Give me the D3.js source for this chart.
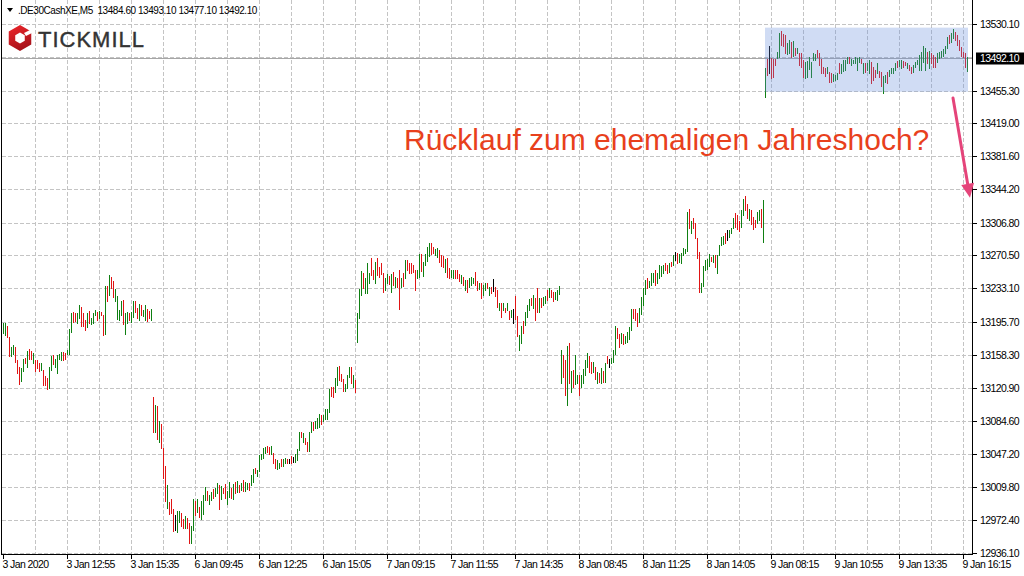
<!DOCTYPE html>
<html><head><meta charset="utf-8">
<script src="https://cdn.jsdelivr.net/npm/d3@7"></script>
<style>
body{margin:0;background:#fff}
svg{display:block}
text{font-family:"Liberation Sans",Arial,sans-serif}
</style>
</head><body>
<svg id="c" width="1024" height="576"></svg>
<script>
// ---------------- data ----------------
const symbolTitle = ".DE30CashXE,M5";
const lastOHLC = ["13484.60","13493.10","13477.10","13492.10"];
const bidPrice = 13492.10;
const bidLabel = "13492.10";

// bar highs (5-minute bars, 3 Jan 10:15 .. 9 Jan 16:25)
const highs = [
13194,13194,13191,13179,13167,13169,13167,13153,13145,13144,
13154,13155,13163,13165,13163,13160,13153,13153,13149,13149,
13141,13135,13132,13145,13157,13158,13154,13158,13159,13162,
13162,13160,13164,13187,13205,13207,13205,13205,13214,13212,
13205,13198,13205,13208,13200,13205,13209,13207,13208,13207,
13203,13236,13236,13248,13246,13241,13232,13225,13209,13219,
13220,13205,13207,13205,13207,13219,13219,13211,13216,13214,
13209,13214,13210,13208,13210,
13111,13102,13101,13084,13081,13054,13034,13012,12993,12996,
12985,12978,12983,12983,12981,12974,12977,12975,12970,12966,
12996,12994,12996,12988,12994,13001,13010,13005,13001,13004,
13008,13009,13014,13012,13011,13009,13013,13005,13016,13009,
13013,13016,13017,13012,13014,13018,13016,13014,13014,13023,
13030,13031,13029,13046,13047,13054,13055,13056,13055,13056,
13048,13041,13040,13037,13041,13041,13043,13041,13041,13045,
13044,13047,13053,13072,13072,13071,13065,13061,13072,13083,
13083,13084,13087,13092,13091,13091,13097,13097,13120,13122,
13122,13132,13145,13146,13137,13131,13126,13136,13145,13145,
13136,13130,
13205,13232,13253,13250,13245,13262,13250,13267,13254,13263,
13267,13257,13262,13250,13245,13249,13247,13249,13251,13246,
13245,13254,13245,13250,13265,13265,13262,13262,13259,13254,
13254,13272,13272,13263,13272,13280,13284,13284,13280,13277,
13278,13276,13271,13269,13266,13267,13256,13254,13254,13254,
13254,13249,13248,13246,13243,13243,13245,13246,13245,13251,
13241,13239,13239,13237,13239,13239,13235,13235,13244,13235,
13231,13217,13217,13217,13211,13217,13208,13209,13210,13225,
13202,13181,13191,13196,13207,13214,13221,13222,13226,13222,
13234,13222,13222,13223,13225,13231,13234,13231,13229,13229,
13231,13236,
13164,13158,13153,13168,13172,13140,13141,13158,13136,13136,
13136,13143,13153,13161,13157,13150,13150,13145,13139,13138,
13144,13140,13149,13157,13154,13155,13164,13191,13189,13182,
13183,13182,13180,13184,13190,13210,13210,13210,13205,13211,
13223,13234,13243,13245,13241,13250,13250,13254,13250,13259,
13258,13259,13262,13259,13262,13263,13271,13274,13273,13272,
13273,13278,13277,13319,13322,13309,13312,13307,13290,13274,
13239,13258,13265,13266,13272,13268,13271,13271,13271,13282,
13291,13292,13295,13299,13299,13301,13312,13318,13315,13309,
13321,13333,13337,13328,13322,13321,13313,13310,13319,13321,
13322,13332,
13481,13491,13505,13492,13491,13491,13499,13520,13522,13519,
13518,13509,13512,13510,13511,13503,13503,13498,13498,13490,
13487,13489,13493,13487,13498,13496,13501,13498,13491,13482,
13481,13482,13476,13475,13474,13473,13475,13486,13485,13490,
13490,13493,13493,13491,13490,13493,13492,13493,13491,13486,
13486,13486,13490,13487,13482,13478,13486,13477,13476,13472,
13473,13476,13478,13481,13481,13486,13489,13490,13490,13489,
13487,13486,13484,13482,13484,13487,13490,13495,13499,13505,
13503,13499,13500,13498,13495,13493,13498,13499,13500,13502,
13505,13516,13518,13520,13525,13521,13518,13512,13504,13499,
13498,13493.1
];

const lows = [
13183,13181,13179,13157,13157,13159,13150,13138,13126,13129,
13140,13149,13145,13154,13154,13149,13140,13144,13140,13141,
13125,13125,13120,13121,13141,13148,13145,13138,13154,13153,
13153,13154,13159,13159,13184,13195,13196,13194,13200,13191,
13191,13186,13190,13194,13193,13194,13203,13198,13200,13203,
13181,13182,13219,13226,13234,13223,13219,13199,13198,13203,
13193,13182,13194,13198,13195,13201,13207,13200,13198,13203,
13202,13198,13196,13200,13198,
13072,13072,13064,13061,13054,13020,12994,12986,12980,12981,
12960,12962,12959,12971,12966,12964,12964,12964,12947,12947,
12962,12978,12982,12976,12974,12980,12995,12995,12991,12995,
12998,13000,13003,12985,12996,13003,12998,12991,12999,12998,
12996,13003,13004,13004,13006,13005,13005,13008,13006,13012,
13016,13026,13022,13028,13041,13043,13048,13049,13047,13047,
13037,13031,13030,13031,13034,13033,13037,13037,13037,13037,
13038,13038,13040,13052,13066,13061,13058,13050,13050,13072,
13074,13076,13076,13077,13081,13084,13086,13086,13094,13112,
13111,13117,13125,13130,13129,13118,13118,13121,13134,13127,
13122,13117,
13173,13200,13226,13234,13228,13228,13239,13248,13244,13239,
13248,13246,13249,13229,13231,13239,13238,13229,13237,13235,
13235,13210,13235,13236,13245,13254,13250,13250,13251,13231,
13245,13246,13253,13247,13259,13264,13270,13272,13273,13271,
13268,13263,13258,13257,13251,13246,13245,13246,13245,13245,
13245,13241,13239,13237,13231,13229,13235,13237,13239,13237,
13231,13232,13222,13226,13231,13234,13226,13228,13230,13224,
13212,13209,13201,13209,13207,13209,13199,13201,13194,13199,
13180,13164,13172,13183,13192,13201,13209,13214,13211,13197,
13207,13207,13212,13214,13217,13220,13223,13223,13219,13221,
13220,13227,
13127,13134,13113,13102,13127,13117,13122,13126,13127,13113,
13122,13127,13136,13145,13139,13138,13139,13131,13127,13128,
13127,13128,13128,13149,13145,13149,13150,13159,13177,13167,
13172,13171,13172,13173,13176,13186,13200,13198,13191,13195,
13204,13214,13227,13234,13235,13237,13240,13237,13239,13245,
13247,13250,13254,13250,13251,13258,13259,13265,13262,13263,
13262,13271,13273,13275,13301,13295,13301,13290,13267,13229,
13229,13236,13254,13255,13258,13264,13263,13257,13250,13271,
13282,13283,13284,13287,13291,13295,13301,13302,13300,13298,
13302,13315,13321,13312,13310,13305,13300,13302,13307,13310,
13302,13285,
13448,13473,13475,13469,13471,13484,13492,13493,13507,13505,
13498,13496,13498,13493,13494,13495,13498,13484,13482,13471,
13469,13471,13480,13471,13490,13490,13493,13484,13475,13475,
13472,13475,13465,13465,13466,13467,13468,13475,13475,13477,
13478,13486,13486,13484,13486,13486,13478,13487,13486,13475,
13476,13478,13475,13464,13467,13471,13475,13471,13460,13453,
13465,13464,13472,13475,13475,13478,13482,13483,13481,13482,
13484,13481,13478,13475,13476,13482,13485,13478,13478,13487,
13478,13486,13481,13486,13482,13482,13487,13492,13493,13494,
13498,13503,13509,13510,13514,13512,13507,13501,13494,13493,
13482,13477.1
];

// bar direction: u = close above open, d = close below open, n = unchanged
const directions = (
"u u d d u u d d d u  u d u d d u d d d u  d d d u u d u u u u  d d u u u d d u u d " +
"d d u d u u u d u d  d u d u d d u u u u  d u u d u u d d u d  u u d d u " +
"d u d u d d d u d d  d n u u d d u d d u  u d u d u u u d u u  d u u d u d d u u d " +
"u d u d u d u u d u  u d u u u u u d d u  d d u u d u u d n d  n u u u d u d d u u " +
"d u u u d u u u u d  d u u d d d u u u d  u d " +
"u u u d u u u d d u  d d d d u u d u d u  d d u d u d d d d d  u u d u u u u d d u " +
"u d d d u d d u u d  d d u d u d u u u d  d u d u u d u d n d  d u d u d u d u n d " +
"d u u d u u u d u d  d u d u u d u d d u  u u " +
"u d d u d u d u u d  u u u u d d u d u d  u d u d n u u u d d  u d u u u u d d d u " +
"u u u d u u u d u u  u u d d u d u n d u  u u u u d u d d d d  u u u u u d u d u u " +
"u u d n u u u d d d  u u d d u d d d u u  d u " +
"u d n d d d u u d d  d u u d u d u d d d  u u u u u u d d d d  d u d d u u u d u u " +
"u u d u u u u u d u  d u u d d d u d d u  u d u u u u d u u d  d u d d u u u u u u " +
"u d u d d d u u u u  u u d u u d d d d d  d u"
).trim().split(/\s+/);

// axes
const priceTicks = [13530.10,13455.30,13419.00,13381.60,13344.20,13306.80,13270.50,13233.10,
  13195.70,13158.30,13120.90,13084.60,13047.20,13009.80,12972.40,12936.10];
const hiddenGridPrice = 13492.70;
const timeTickBars = [0,32,64,96,128,160,192,224,256,288,320,352,384,416,448,480];
const timeTickLabels = ["3 Jan 2020","3 Jan 12:55","3 Jan 15:35","6 Jan 09:45","6 Jan 12:25",
  "6 Jan 15:05","7 Jan 09:15","7 Jan 11:55","7 Jan 14:35","8 Jan 08:45","8 Jan 11:25",
  "8 Jan 14:05","9 Jan 08:15","9 Jan 10:55","9 Jan 13:35","9 Jan 16:15"];

// annotations
const zoneBars = [381, 482.5];
const zonePrices = [13526, 13454];
const noteText = "Rücklauf zum ehemaligen Jahreshoch?";
const arrowFrom = {bar: 475, price: 13447};
const arrowTo = {bar: 483.5, price: 13335};

// ---------------- drawing ----------------
const svg = d3.select("#c");
const N = Math.min(highs.length, lows.length, directions.length);
const plotLeft = 1.5, plotRight = 972.5, plotBottom = 554.5;

const x = d3.scaleLinear().domain([0, 482]).range([3, 967]);
const y = d3.scaleLinear().domain([12936.1, 13530.1]).range([552.7, 24]);
const px = v => Math.round(x(v)) + 0.5;
const py = v => Math.round(y(v)) + 0.5;

// grid
const grid = svg.append("g").attr("stroke", "#c4c4c4").attr("stroke-dasharray", "4,2")
  .attr("shape-rendering", "crispEdges").attr("fill", "none");
grid.selectAll("line.v").data(d3.range(16, 483, 16)).join("line").attr("class", "v")
  .attr("x1", d => px(d)).attr("x2", d => px(d)).attr("y1", 0).attr("y2", plotBottom);
grid.selectAll("line.h").data(priceTicks.concat([hiddenGridPrice])).join("line").attr("class", "h")
  .attr("x1", plotLeft).attr("x2", plotRight).attr("y1", d => py(d)).attr("y2", d => py(d));

// bid line
svg.append("line").attr("x1", plotLeft).attr("x2", plotRight)
  .attr("y1", py(bidPrice)).attr("y2", py(bidPrice))
  .attr("stroke", "#a6a6a6").attr("stroke-width", 1).attr("shape-rendering", "crispEdges");

// bars
const colors = {u: "#0f7f12", d: "#e01414", n: "#000000"};
const bars = d3.range(N).map(i => ({i, h: highs[i], l: lows[i], d: directions[i]}));
svg.append("g").attr("shape-rendering", "crispEdges").selectAll("line").data(bars).join("line")
  .attr("x1", d => px(d.i)).attr("x2", d => px(d.i))
  .attr("y1", d => Math.round(y(d.h))).attr("y2", d => Math.max(Math.round(y(d.l)) + 1, Math.round(y(d.h)) + 2))
  .attr("stroke", d => colors[d.d] || "#000").attr("stroke-width", 1);

// highlighted zone (semi-transparent overlay)
svg.append("rect")
  .attr("x", x(zoneBars[0])).attr("width", x(zoneBars[1]) - x(zoneBars[0]))
  .attr("y", y(zonePrices[0])).attr("height", y(zonePrices[1]) - y(zonePrices[0]))
  .attr("fill", "rgb(98,138,218)").attr("fill-opacity", 0.3);

// frame
const frame = svg.append("g").attr("stroke", "#000").attr("shape-rendering", "crispEdges");
frame.append("line").attr("x1", plotLeft).attr("x2", plotLeft).attr("y1", 0).attr("y2", plotBottom);
frame.append("line").attr("x1", plotRight).attr("x2", plotRight).attr("y1", 0).attr("y2", plotBottom);
frame.append("line").attr("x1", plotLeft).attr("x2", plotRight).attr("y1", plotBottom).attr("y2", plotBottom);

// price axis
const pa = svg.append("g");
pa.selectAll("line").data(priceTicks).join("line")
  .attr("x1", plotRight).attr("x2", plotRight + 4).attr("y1", d => py(d)).attr("y2", d => py(d))
  .attr("stroke", "#000").attr("shape-rendering", "crispEdges");
pa.selectAll("text").data(priceTicks).join("text")
  .attr("x", 980).attr("y", d => py(d) + 3.5)
  .attr("font-size", 10.5).attr("letter-spacing", "-0.6px").attr("fill", "#000")
  .text(d => d.toFixed(2));
// bid label
pa.append("rect").attr("x", 976).attr("y", py(bidPrice) - 6).attr("width", 48).attr("height", 12).attr("fill", "#000");
pa.append("text").attr("x", 980).attr("y", py(bidPrice) + 3.5).attr("font-size", 10.5)
  .attr("letter-spacing", "-0.6px").attr("fill", "#fff").text(bidLabel);

// time axis
const ta = svg.append("g");
ta.selectAll("line").data(timeTickBars).join("line")
  .attr("x1", d => px(d)).attr("x2", d => px(d)).attr("y1", plotBottom).attr("y2", plotBottom + 4)
  .attr("stroke", "#000").attr("shape-rendering", "crispEdges");
ta.selectAll("text").data(timeTickBars).join("text")
  .attr("x", d => px(d) - 1).attr("y", 568)
  .attr("font-size", 10.5).attr("letter-spacing", "-0.6px").attr("fill", "#000")
  .text((d, i) => timeTickLabels[i]);

// header
svg.append("path").attr("d", "M7,8 L13,8 L10,12 Z").attr("fill", "#000");
svg.append("text").attr("x", 18).attr("y", 14).attr("font-size", 10).attr("letter-spacing", "-0.45px")
  .attr("fill", "#000").style("white-space", "pre")
  .text(symbolTitle + "  " + lastOHLC.join(" "));

// logo
const logo = svg.append("g");
const defs = svg.append("defs");
const lg = defs.append("linearGradient").attr("id", "lg").attr("x1", 0).attr("y1", 0).attr("x2", 0.4).attr("y2", 1);
lg.append("stop").attr("offset", 0).attr("stop-color", "#f0262b");
lg.append("stop").attr("offset", 1).attr("stop-color", "#a8121a");
const hex = (cx, cy, r) => d3.range(6).map(k => {
  const a = Math.PI / 180 * (60 * k - 90);
  return [cx + r * Math.cos(a), cy + r * Math.sin(a)];
});
logo.append("path")
  .attr("d", "M" + hex(20, 38, 13).join("L") + "Z M" + hex(20, 38, 5.5).reverse().join("L") + "Z")
  .attr("fill", "url(#lg)").attr("fill-rule", "evenodd");
logo.append("path").attr("d", "M24,33 L32,29 L32,33 L26,36 Z").attr("fill", "#fff");
logo.append("text").attr("x", 38).attr("y", 46.5).attr("font-size", 22).attr("letter-spacing", "1px")
  .attr("fill", "#333").attr("stroke", "#333").attr("stroke-width", 0.4).text("TICKMILL");

// note
svg.append("text").attr("x", 404).attr("y", 150).attr("font-size", 30).attr("fill", "#e8401c")
  .text(noteText);

// arrow
const ax1 = x(arrowFrom.bar), ay1 = y(arrowFrom.price), ax2 = x(arrowTo.bar), ay2 = y(arrowTo.price);
const ang = Math.atan2(ay2 - ay1, ax2 - ax1);
const headLen = 14, headW = 6.5;
const bx = ax2 - headLen * Math.cos(ang), by = ay2 - headLen * Math.sin(ang);
svg.append("line").attr("x1", ax1).attr("y1", ay1).attr("x2", bx).attr("y2", by)
  .attr("stroke", "#e5447a").attr("stroke-width", 3).attr("stroke-linecap", "round");
svg.append("path").attr("d",
  `M${ax2},${ay2} L${bx + headW * Math.sin(ang)},${by - headW * Math.cos(ang)} L${bx - headW * Math.sin(ang)},${by + headW * Math.cos(ang)} Z`)
  .attr("fill", "#e5447a");
</script>
</body></html>
